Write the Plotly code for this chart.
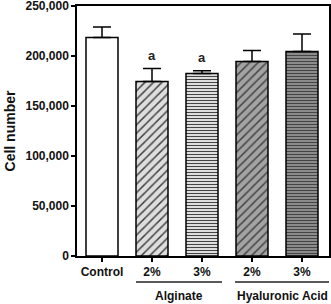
import plotly.graph_objects as go

categories = ["Control", "Alg 2%", "Alg 3%", "HA 2%", "HA 3%"]
tick_labels = ["Control", "2%", "3%", "2%", "3%"]
means = [218500, 174500, 182500, 194500, 204500]
errors = [10500, 13000, 2800, 11000, 17500]
sig_labels = ["", "a", "a", "", ""]
group_names = ["Alginate", "Hyaluronic Acid"]
y_ticks = [0, 50000, 100000, 150000, 200000, 250000]

fills = ["#ffffff", "#dedede", "#ffffff", "#a3a3a3", "#9a9a9a"]
pat_shapes = ["", "/", "-", "/", "-"]
pat_fg = ["#000000", "#000000", "#7a7a7a", "#000000", "#4a4a4a"]
pat_size = [8, 6, 3, 6, 3]
pat_sol = [0.3, 0.25, 0.45, 0.25, 0.45]

xs = list(range(len(categories)))
font = "Arial"

fig = go.Figure()
fig.add_trace(go.Bar(
    x=xs, y=means, width=0.64,
    marker=dict(color=fills, line=dict(color="black", width=1.5),
                pattern=dict(shape=pat_shapes, fgcolor=pat_fg, fgopacity=1,
                             size=pat_size, solidity=pat_sol, fillmode="overlay")),
    error_y=dict(type="data", symmetric=False, array=errors,
                 arrayminus=[0]*len(errors), color="black", thickness=1.5, width=9),
    showlegend=False,
))

for i, s in enumerate(sig_labels):
    if s:
        fig.add_annotation(x=xs[i], y=means[i] + errors[i], text="<b>%s</b>" % s,
                           showarrow=False, yanchor="bottom", yshift=4,
                           font=dict(family=font, size=13, color="#222"))

groups = [(0.68, 2.4, group_names[0]), (2.66, 4.54, group_names[1])]
for x0, x1, name in groups:
    fig.add_shape(type="line", xref="x", yref="paper", x0=x0, x1=x1,
                  y0=-0.104, y1=-0.104, line=dict(color="#222", width=1.5))
    fig.add_annotation(xref="x", yref="paper", x=(x0 + x1) / 2, y=-0.16,
                       text="<b>%s</b>" % name, showarrow=False, yanchor="middle",
                       font=dict(family=font, size=12, color="#111"))

fig.update_layout(
    width=331, height=304,
    margin=dict(l=77, r=2, t=6, b=48, autoexpand=False),
    plot_bgcolor="white", paper_bgcolor="white",
    font=dict(family=font, size=12, color="#111"),
)
fig.update_xaxes(
    range=[-0.5, 4.54], tickmode="array", tickvals=xs, automargin=False,
    ticktext=["<b>%s</b>" % t for t in tick_labels],
    ticks="outside", ticklen=4, tickwidth=1.5, tickcolor="black",
    showline=True, linecolor="black", linewidth=1.5, mirror=True,
    showgrid=False, zeroline=False, tickfont=dict(size=12),
    ticklabeloverflow="allow",
)
fig.update_yaxes(
    range=[0, 250000], tickmode="array", tickvals=y_ticks, automargin=False,
    ticktext=["<b>{:,}</b>".format(v) for v in y_ticks],
    ticks="outside", ticklen=4, tickwidth=1.5, tickcolor="black",
    showline=True, linecolor="black", linewidth=1.5, mirror=True,
    showgrid=False, zeroline=False, ticklabeloverflow="allow",
    tickfont=dict(size=12),
    title=dict(text="<b>Cell number</b>", font=dict(size=14), standoff=7),
)

fig.write_html("out.html", config={"displayModeBar": False},
               post_script="document.body.style.margin='0';document.body.style.overflow='hidden';")
